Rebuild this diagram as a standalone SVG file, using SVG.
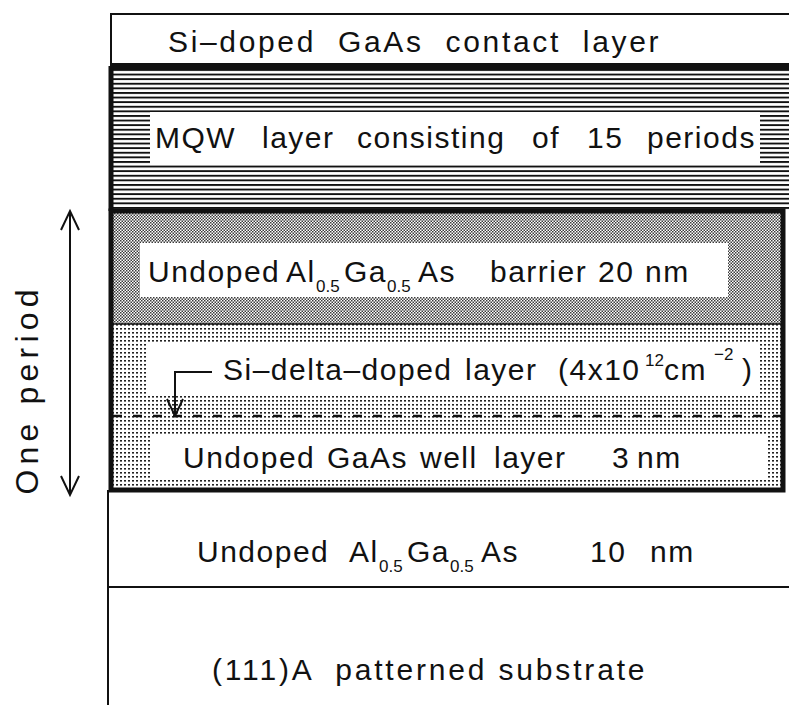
<svg xmlns="http://www.w3.org/2000/svg" width="789" height="705" viewBox="0 0 789 705">
<style>
.t{font-family:"Liberation Sans",Arial,sans-serif;font-size:30px;fill:#111;letter-spacing:1.5px}
.s{font-size:17px;letter-spacing:0}
.thin{fill:none;stroke:#111;stroke-width:2}
.thick{fill:none;stroke:#111;stroke-width:5}
.box{fill:#fff}
</style>
<defs>
<pattern id="hatch" width="8" height="4.6" patternUnits="userSpaceOnUse"><rect width="8" height="4.6" fill="#fff"/><rect y="0" width="8" height="1.9" fill="#111"/></pattern>
<pattern id="checker" width="3" height="3" patternUnits="userSpaceOnUse"><rect width="3" height="3" fill="#fff"/><rect width="1.5" height="1.5" fill="#3a3a3a"/><rect x="1.5" y="1.5" width="1.5" height="1.5" fill="#3a3a3a"/></pattern>
<pattern id="dots" width="4" height="4" patternUnits="userSpaceOnUse"><rect width="4" height="4" fill="#fff"/><rect width="2" height="1.6" fill="#222"/></pattern>
</defs>
<rect width="789" height="705" fill="#fff"/>

<g id="contact-layer">
<rect x="111" y="14" width="700" height="52" fill="#fff" class="thin"/>
<text class="t" x="168" y="52" xml:space="preserve" textLength="492" lengthAdjust="spacing">Si–doped  GaAs  contact  layer</text>
</g>

<g id="mqw-layer">
<rect x="111" y="66" width="700" height="145" fill="url(#hatch)"/>
<line x1="111" y1="66" x2="789" y2="66" stroke="#111" stroke-width="6"/>
<line x1="111" y1="66" x2="111" y2="211" stroke="#111" stroke-width="5"/>
<rect x="150" y="112" width="610" height="52" class="box"/>
<text class="t" y="148"><tspan x="155">MQW</tspan><tspan x="262">layer</tspan><tspan x="357">consisting</tspan><tspan x="532">of</tspan><tspan x="587">15</tspan><tspan x="647">periods</tspan></text>
</g>

<g id="barrier-layer">
<rect x="111" y="211" width="672" height="113" fill="url(#checker)"/>
<rect x="140" y="243" width="588" height="54" class="box"/>
<text class="t" y="282"><tspan x="148">Undoped</tspan><tspan x="286">Al</tspan><tspan x="316" y="292" class="s">0.5</tspan><tspan x="344" y="282">Ga</tspan><tspan x="387" y="292" class="s">0.5</tspan><tspan x="418" y="282">As</tspan><tspan x="490">barrier</tspan><tspan x="598">20</tspan><tspan x="645">nm</tspan></text>
</g>

<g id="well-layer">
<rect x="111" y="324" width="672" height="166" fill="url(#dots)"/>
<line x1="111" y1="324" x2="783" y2="324" stroke="#111" stroke-width="1.5"/>
<rect x="148" y="342" width="612" height="53" class="box"/>
<rect x="152" y="435" width="615" height="45" class="box"/>
<text class="t" y="380"><tspan x="223">Si–delta–doped</tspan><tspan x="465">layer</tspan><tspan x="558">(4x10</tspan><tspan x="645" y="366" class="s">12</tspan><tspan x="664" y="380">cm</tspan><tspan x="714" y="360" class="s">−2</tspan><tspan x="742" y="380">)</tspan></text>
<line x1="113" y1="416" x2="781" y2="416" stroke="#111" stroke-width="2.5" stroke-dasharray="9 11"/>
<text class="t" y="468"><tspan x="183">Undoped</tspan><tspan x="327">GaAs</tspan><tspan x="420">well</tspan><tspan x="494">layer</tspan><tspan x="612">3</tspan><tspan x="637">nm</tspan></text>
<rect x="111" y="211" width="672" height="279" class="thick"/>
</g>

<g id="algaas-layer">
<line x1="108" y1="490" x2="108" y2="705" stroke="#111" stroke-width="2"/>
<line x1="108" y1="587" x2="789" y2="587" stroke="#111" stroke-width="2"/>
<text class="t" y="562"><tspan x="197">Undoped</tspan><tspan x="349">Al</tspan><tspan x="379" y="572" class="s">0.5</tspan><tspan x="407" y="562">Ga</tspan><tspan x="450" y="572" class="s">0.5</tspan><tspan x="481" y="562">As</tspan><tspan x="590">10</tspan><tspan x="650">nm</tspan></text>
</g>

<g id="substrate">
<text class="t" x="212" y="680" xml:space="preserve" textLength="434" lengthAdjust="spacing">(111)A  patterned substrate</text>
</g>

<g id="connectors" fill="none" stroke="#111" stroke-width="2">
<polyline points="212,372 175,372 175,415"/>
<polyline points="167,399 175,416 183,399"/>
<line x1="70" y1="212" x2="70" y2="494"/>
<polyline points="61,230 70,211 79,230"/>
<polyline points="61,476 70,495 79,476"/>
</g>

<g id="period-label">
<text class="t" style="font-size:32px;letter-spacing:0" transform="translate(38,392) rotate(-90)" text-anchor="middle" textLength="205" lengthAdjust="spacing">One period</text>
</g>
</svg>
